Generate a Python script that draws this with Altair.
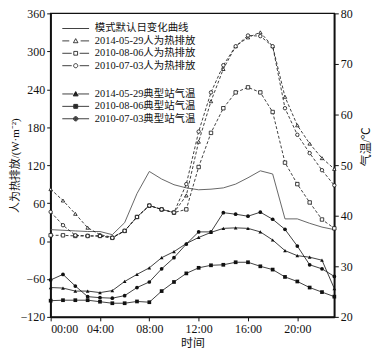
import json
import altair as alt
import pandas as pd

# ---------------- data ----------------
hours = list(range(24))
hour_labels = ["00:00", "04:00", "08:00", "12:00", "16:00", "20:00"]

heat_names = ["模式默认日变化曲线", "2014-05-29人为热排放", "2010-08-06人为热排放", "2010-07-03人为热排放"]
temp_names = ["2014-05-29典型站气温", "2010-08-06典型站气温", "2010-07-03典型站气温"]

default_heat = [18, 17, 16, 15, 15, 10, 29, 75, 110, 98, 89, 84, 81, 82, 84, 90, 100, 111, 106, 35, 35, 28, 22, 18]
heat_0529 = [82, 64, 43, 21, 10, 6, 16, 38, 56, 50, 45, 72, 157, 221, 272, 308, 322, 330, 308, 228, 183, 154, 131, 114]
heat_0806 = [9, 9, 8, 8, 8, 5, 16, 38, 56, 50, 45, 50, 117, 171, 210, 235, 243, 235, 204, 124, 90, 61, 34, 20]
heat_0703 = [46, 25, 9, 8, 8, 5, 16, 38, 56, 50, 45, 90, 173, 235, 278, 308, 325, 324, 308, 210, 168, 139, 112, 88]

temp_0529 = [25.8, 25.7, 25.1, 25.1, 24.8, 25.2, 27.0, 28.4, 29.7, 31.7, 32.9, 34.5, 35.7, 36.7, 37.5, 37.6, 37.5, 36.8, 35.2, 33.1, 32.1, 31.8, 31.2, 25.6]
temp_0806 = [23.2, 23.3, 23.3, 23.3, 23.0, 22.7, 22.7, 23.05, 22.9, 25.1, 26.9, 28.6, 29.7, 30.2, 30.3, 30.8, 30.8, 30.0, 29.35, 27.9, 27.0, 25.8, 24.9, 24.0]
temp_0703 = [27.3, 28.4, 26.1, 24.0, 23.8, 23.7, 24.2, 25.8, 26.9, 29.5, 31.7, 34.4, 36.8, 36.8, 40.6, 40.3, 39.9, 40.7, 39.3, 37.3, 34.0, 30.3, 29.5, 28.0]

heat_vals = [default_heat, heat_0529, heat_0806, heat_0703]
temp_vals = [temp_0529, temp_0806, temp_0703]

heat_df = pd.DataFrame({
    "hour": hours * len(heat_names),
    "value": [v for s in heat_vals for v in s],
    "series": [n for n in heat_names for _ in hours],
})
temp_df = pd.DataFrame({
    "hour": hours * len(temp_names),
    "temp": [v for s in temp_vals for v in s],
    "series": [n for n in temp_names for _ in hours],
})

# ---------------- styling ----------------
FONT = "Liberation Serif, Noto Sans CJK SC"
INK = "#111111"

label_expr = json.dumps(hour_labels) + "[round(datum.value / 4)]"
x_enc = alt.X(
    "hour:Q",
    scale=alt.Scale(domain=[0, 23], nice=False, zero=False),
    axis=alt.Axis(values=[0, 4, 8, 12, 16, 20], labelExpr=label_expr, title="时间",
                  grid=False, tickSize=4, labelPadding=3, titlePadding=3),
)
y_heat = alt.Y(
    "value:Q",
    scale=alt.Scale(domain=[-120, 360], nice=False, zero=False),
    axis=alt.Axis(values=list(range(-120, 361, 60)), title="人为热排放/(W·m⁻²)",
                  grid=False, tickSize=4, labelPadding=2, titleFontSize=11,
                  titleX=-30),
)
y_temp = alt.Y(
    "temp:Q",
    scale=alt.Scale(domain=[20, 80], nice=False, zero=False),
    axis=alt.Axis(values=list(range(20, 81, 10)), title="气温/℃", orient="right",
                  grid=False, tickSize=4, labelPadding=2, titlePadding=8,
                  titleAngle=270, titleBaseline="top", titleY=134),
)

heat_shapes = {heat_names[1]: "triangle-up", heat_names[2]: "square", heat_names[3]: "circle"}
temp_shapes = {temp_names[0]: "triangle-up", temp_names[1]: "square", temp_names[2]: "circle"}

# legend symbols: drawn in pixel units, converted to the symbol unit box
SYM_SIZE = 64
K = (SYM_SIZE ** 0.5) / 2.0


def u(v):
    return "%g" % (v / K)


def seg(a, b):
    return f"M{u(a)},0H{u(b)}"


def tri(h):
    return f"M0,{u(-h)}L{u(h)},{u(0.8*h)}L{u(-h)},{u(0.8*h)}Z"


def sq(h):
    return f"M{u(-h)},{u(-h)}H{u(h)}V{u(h)}H{u(-h)}Z"


def cir(r):
    return f"M{u(r)},0A{u(r)},{u(r)} 0 1,1 {u(-r)},0A{u(r)},{u(r)} 0 1,1 {u(r)},0Z"


def solid(fn, h):
    # concentric outlines so a stroked symbol reads as filled
    return "".join(fn(h * f) for f in (1.0, 0.72, 0.46, 0.22))


heat_paths = [
    seg(-13.5, 13.5),
    seg(-13.5, -6.5) + seg(5, 13.5) + tri(2.3),
    seg(-13.5, -4) + seg(4, 13.5) + sq(1.9),
    seg(-13.5, -4) + seg(4, 13.5) + cir(2.1),
]
temp_paths = [
    seg(-13.5, -2.4) + seg(2.4, 13.5) + solid(tri, 2.5),
    seg(-13.5, -2.0) + seg(2.0, 13.5) + solid(sq, 2.0),
    seg(-13.5, -2.2) + seg(2.2, 13.5) + solid(cir, 2.2),
]


def legend(x, y, fill):
    return alt.Legend(
        title=None, orient="none", legendX=x, legendY=y,
        labelFont=FONT, labelFontSize=10.5, labelColor=INK, labelLimit=300,
        symbolSize=SYM_SIZE, labelOffset=14, rowPadding=1.5, padding=0,
        symbolStrokeColor=INK, symbolFillColor=fill, symbolStrokeWidth=0.8,
        symbolOpacity=1,
    )


# ---------------- heat layers ----------------
base_heat = alt.Chart(heat_df)
heat_layers = [
    base_heat.transform_filter(alt.datum.series == heat_names[0])
    .mark_line(color="#555555", strokeWidth=0.9)
    .encode(x=x_enc, y=y_heat)
]
for name in heat_names[1:]:
    sub = base_heat.transform_filter(alt.datum.series == name)
    heat_layers.append(
        sub.mark_line(color=INK, strokeWidth=0.8, strokeDash=[3, 2]).encode(x=x_enc, y=y_heat)
    )
    heat_layers.append(
        sub.mark_point(shape=heat_shapes[name], filled=True, fill="white", stroke=INK,
                       strokeWidth=0.8, size=12, opacity=1).encode(x=x_enc, y=y_heat)
    )
heat_legend = base_heat.transform_filter("datum.hour < 0").mark_point(
    filled=False, color=INK, opacity=1
).encode(
    shape=alt.Shape("series:N", scale=alt.Scale(domain=heat_names, range=heat_paths),
                    legend=legend(20, 10, "transparent")),
)
heat_layer = alt.layer(*heat_layers, heat_legend)

# ---------------- temperature layers ----------------
base_temp = alt.Chart(temp_df)
temp_layers = []
for name in temp_names:
    sub = base_temp.transform_filter(alt.datum.series == name)
    temp_layers.append(sub.mark_line(color=INK, strokeWidth=0.8).encode(x=x_enc, y=y_temp))
    temp_layers.append(
        sub.mark_point(shape=temp_shapes[name], filled=True, color=INK, size=14, opacity=1)
        .encode(x=x_enc, y=y_temp)
    )
temp_legend = base_temp.transform_filter("datum.hour < 0").mark_point(
    filled=False, color=INK, opacity=1
).encode(
    shape=alt.Shape("series:N", scale=alt.Scale(domain=temp_names, range=temp_paths),
                    legend=legend(20, 76, INK)),
)
temp_layer = alt.layer(*temp_layers, temp_legend)

chart = (
    alt.layer(heat_layer, temp_layer)
    .resolve_scale(y="independent", shape="independent")
    .properties(
        width=286, height=306,
        autosize=alt.AutoSizeParams(type="none"),
        padding={"left": 43, "top": 4, "right": 40, "bottom": 36},
        background="white",
    )
    .configure_view(stroke=INK, strokeWidth=1.5)
    .configure_axis(
        labelFont=FONT, titleFont=FONT, labelFontSize=12, titleFontSize=12,
        titleFontWeight="normal", labelColor=INK, titleColor=INK,
        domainColor=INK, tickColor=INK, domainWidth=1.5, tickWidth=1,
    )
)

chart.save("out.html", embed_options={"renderer": "svg", "actions": False})
